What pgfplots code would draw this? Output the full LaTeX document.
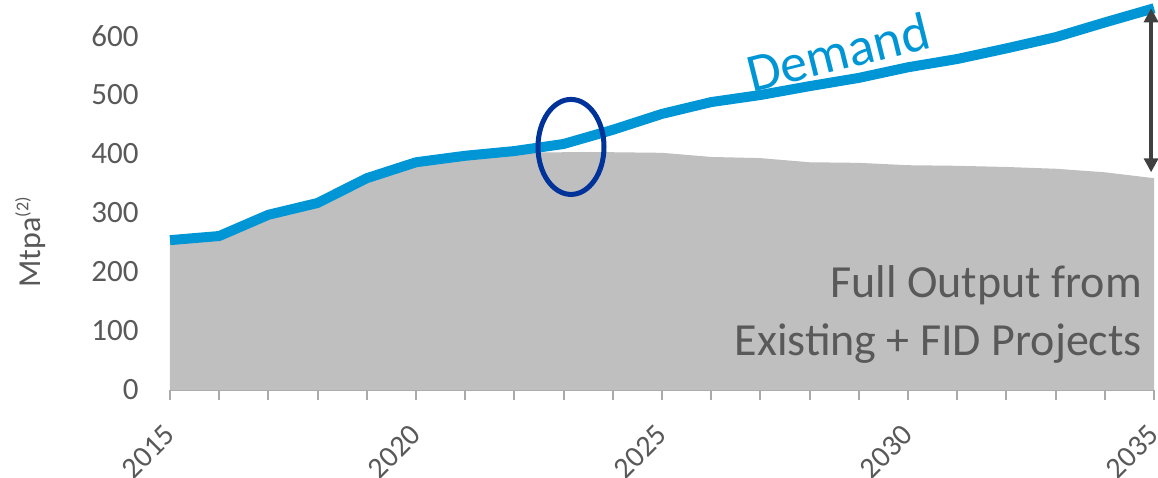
\documentclass[border=0pt]{standalone}
\usepackage{pgfplots}
\pgfplotsset{compat=1.18}
\usepackage{fontspec}
\setmainfont{Carlito}
\usetikzlibrary{arrows.meta}
\definecolor{demandblue}{RGB}{0,150,214}
\definecolor{circblue}{RGB}{0,51,153}
\definecolor{areagray}{RGB}{191,191,191}
\definecolor{txtgray}{RGB}{89,89,89}
\definecolor{axgray}{RGB}{170,170,170}
\definecolor{arrowgray}{RGB}{64,64,64}
\begin{document}
\begin{tikzpicture}
\begin{axis}[
  scale only axis,
  width=492pt, height=191.75pt,
  xmin=2015, xmax=2035, ymin=0, ymax=650,
  axis x line*=bottom,
  axis y line*=left,
  x axis line style={draw=axgray, line width=1pt},
  y axis line style={draw=none},
  xtick={2015,2020,2025,2030,2035},
  minor xtick={2016,2017,2018,2019,2021,2022,2023,2024,2026,2027,2028,2029,2031,2032,2033,2034},
  tick align=outside,
  major tick length=5pt, minor tick length=5pt,
  xtick style={draw=axgray, line width=1pt},
  minor tick style={draw=axgray, line width=1pt},
  ytick style={draw=none},
  xticklabel style={rotate=45, anchor=east, inner sep=0pt, font=\fontsize{15}{18}\selectfont, text=txtgray},
  xticklabel shift=15pt,
  /pgf/number format/1000 sep={},
  /pgf/number format/assume math mode=true,
  ytick={0,100,200,300,400,500,600},
  yticklabel style={font=\fontsize{15.5}{18}\selectfont, text=txtgray, inner sep=0pt, anchor=east},
  yticklabel shift=10.5pt,
  ylabel={Mtpa\raisebox{6pt}{\fontsize{9}{10}\selectfont(2)}},
  ylabel style={font=\fontsize{16}{19}\selectfont, text=txtgray, at={(axis description cs:-0.142,0.385)}, anchor=center},
  clip=false,
]
% supply (full output from existing + FID projects)
\addplot[fill=areagray, draw=none] coordinates {
 (2015,252) (2016,258) (2017,294) (2018,314) (2019,356) (2020,383) (2021,394) (2022,402)
 (2023,403) (2024,403) (2025,402) (2026,395) (2027,393) (2028,386) (2029,385)
 (2030,381) (2031,380) (2032,378) (2033,375) (2034,369) (2035,359)
} \closedcycle;
% demand
\addplot[demandblue, line width=5pt, line join=round] coordinates {
 (2015,254) (2016,261) (2017,297) (2018,317) (2019,359) (2020,386) (2021,397) (2022,405)
 (2023,417) (2024,441) (2025,468) (2026,488) (2027,500) (2028,515) (2029,529)
 (2030,547) (2031,561) (2032,579) (2033,598) (2034,623) (2035,647)
};
\draw[circblue, line width=2.5pt] (axis cs:2023.15,412) ellipse [x radius=16.5pt, y radius=23.75pt];
\draw[arrowgray, line width=2pt, {Triangle[width=7pt,length=7pt]}-{Triangle[width=7pt,length=7pt]}] (axis cs:2034.94,647) -- (axis cs:2034.94,369);
\node[rotate=14, text=demandblue, font=\fontsize{27}{30}\selectfont, inner sep=0pt] at (axis cs:2028.58,573) {Demand};
\node[anchor=base east, text=txtgray, font=\fontsize{23}{26}\selectfont, inner sep=0pt] at (axis cs:2034.76,156) {Full Output from};
\node[anchor=base east, text=txtgray, font=\fontsize{23}{26}\selectfont, inner sep=0pt] at (axis cs:2034.76,59) {Existing + FID Projects};
\coordinate (bbbl) at (axis cs:2011.545,-149);
\coordinate (bbtr) at (axis cs:2035.08,661);
\end{axis}
\pgfresetboundingbox
\path[use as bounding box] (bbbl) rectangle (bbtr);
\end{tikzpicture}
\end{document}
